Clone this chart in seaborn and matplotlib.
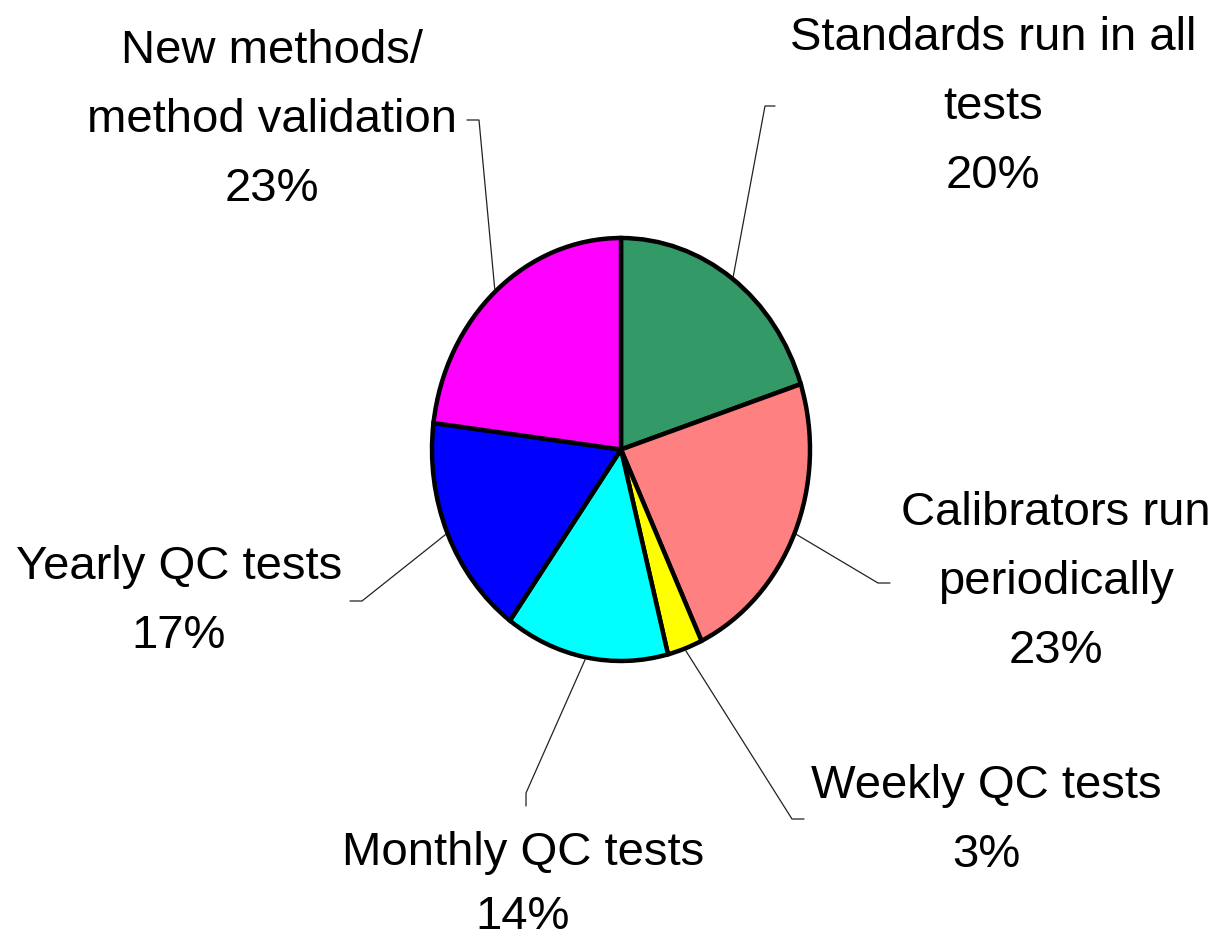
import numpy as np
import matplotlib
matplotlib.use("Agg")
import matplotlib.pyplot as plt
import seaborn as sns

# ---- data ----
categories = ["Standards run in all tests", "Calibrators run periodically",
              "Weekly QC tests", "Monthly QC tests", "Yearly QC tests",
              "New methods/ method validation"]
values = [20, 23, 3, 14, 17, 23]
label_lines = [["Standards run in all", "tests", "20%"],
               ["Calibrators run", "periodically", "23%"],
               ["Weekly QC tests", "3%"],
               ["Monthly QC tests", "14%"],
               ["Yearly QC tests", "17%"],
               ["New methods/", "method validation", "23%"]]
colors = ["#339966", "#FF8080", "#FFFF00", "#00FFFF", "#0000FF", "#FF00FF"]

sns.set_theme(style="white")
plt.rcParams["font.family"] = ["Liberation Sans", "DejaVu Sans"]

W, H = 1223, 940
fig = plt.figure(figsize=(W / 100, H / 100), dpi=100)
fig.patch.set_facecolor("white")

# pie axes (elliptical pie box in pixels: x 432-810, y 238-661)
px0, px1, py0, py1 = 432, 810, 238, 661
ax = fig.add_axes([px0 / W, 1 - py1 / H, (px1 - px0) / W, (py1 - py0) / H])
palette = sns.color_palette(colors)
wedges, _ = ax.pie(values, colors=palette, startangle=90, counterclock=False,
                   radius=1, wedgeprops=dict(edgecolor="black", linewidth=3.2))
ax.set_aspect("auto")
ax.set_xlim(-1, 1)
ax.set_ylim(-1, 1)
ax.axis("off")
for w in wedges:
    w.set_clip_on(False)

# overlay axes in pixel coordinates (y down)
ov = fig.add_axes([0, 0, 1, 1], facecolor="none")
ov.set_xlim(0, W)
ov.set_ylim(H, 0)
ov.axis("off")

# layout: text centre x, first baseline y, line step, elbow point, end point
layout = [
    dict(cx=993, by=50, step=69, elbow=(765, 106), end=(775, 106)),
    dict(cx=1056, by=525, step=69, elbow=(878, 583), end=(890, 583)),
    dict(cx=986, by=798, step=69, elbow=(792, 819), end=(804, 819)),
    dict(cx=523, by=865, step=64, elbow=(526, 793), end=(526, 806)),
    dict(cx=179, by=579, step=69, elbow=(362, 601), end=(350, 601)),
    dict(cx=272, by=63, step=69, elbow=(479, 120), end=(467, 120)),
]

to_px = ax.transData
for w, lines, lay in zip(wedges, label_lines, layout):
    mid = np.deg2rad((w.theta1 + w.theta2) / 2)
    dx, dy = to_px.transform((np.cos(mid) * 1.01, np.sin(mid) * 1.01))
    sx, sy = dx, H - dy
    ex, ey = lay["elbow"]
    fx, fy = lay["end"]
    ov.plot([sx, ex, fx], [sy, ey, fy], color="#222222", lw=0.9,
            solid_joinstyle="miter")
    for i, t in enumerate(lines):
        ov.text(lay["cx"], lay["by"] + i * lay["step"], t, ha="center",
                va="baseline", fontsize=34, color="black")

fig.savefig("out.png", dpi=100, facecolor="white")
